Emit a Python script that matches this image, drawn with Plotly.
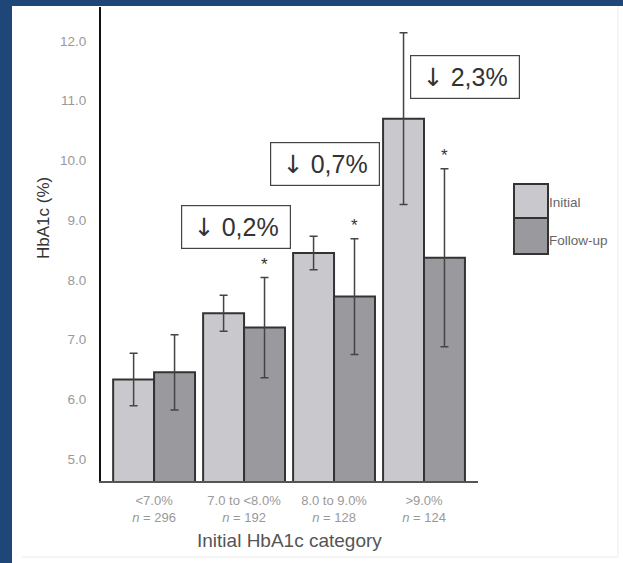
import plotly.graph_objects as go

categories = ["<7.0%", "7.0 to <8.0%", "8.0 to 9.0%", ">9.0%"]
n_values = [296, 192, 128, 124]
initial_mean = [6.33, 7.44, 8.45, 10.70]
initial_sd = [0.44, 0.30, 0.28, 1.44]
followup_mean = [6.45, 7.20, 7.72, 8.37]
followup_sd = [0.63, 0.84, 0.97, 1.49]
significant = [False, True, True, True]
reduction_labels = ["0,2%", "0,7%", "2,3%"]
reduction_pos = [(0.906, 8.885), (1.894, 9.948), (3.456, 11.39)]
y_ticks = [5.0, 6.0, 7.0, 8.0, 9.0, 10.0, 11.0, 12.0]

W, H = 623, 563
L, R, T, B = 101, 478, 7, 481
FONT = "Liberation Sans, Arial, DejaVu Sans, sans-serif"


def px2x(px):
    return (px - L) / (R - L)


def px2y(py):
    return 1 - (py - T) / (B - T)


def esc(s):
    return s.replace("&", "&amp;").replace("<", "&lt;").replace(">", "&gt;")


ticktext = [f"{esc(c)}<br><i>n</i> = {n}" for c, n in zip(categories, n_values)]
xs = list(range(len(categories)))

fig = go.Figure()
fig.add_trace(go.Bar(
    x=xs, y=initial_mean, name="Initial",
    marker=dict(color="#c9c9cd", line=dict(color="#333333", width=2)),
    error_y=dict(type="data", array=initial_sd, color="#444444", thickness=1.5, width=4),
    showlegend=False,
))
fig.add_trace(go.Bar(
    x=xs, y=followup_mean, name="Follow-up",
    marker=dict(color="#9a9a9e", line=dict(color="#333333", width=2)),
    error_y=dict(type="data", array=followup_sd, color="#444444", thickness=1.5, width=4),
    showlegend=False,
))

annotations = []
for i, (m, s, sig) in enumerate(zip(followup_mean, followup_sd, significant)):
    if sig:
        annotations.append(dict(x=i, y=m + s, xref="x", yref="y", text="*", showarrow=False,
                                xshift=20.5, yshift=13, font=dict(family=FONT, size=17, color="#333333")))
for lab, (bx, by) in zip(reduction_labels, reduction_pos):
    annotations.append(dict(x=bx, y=by, xref="x", yref="y",
                            text='<span style="font-family:DejaVu Sans">↓</span> ' + lab,
                            showarrow=False,
                            font=dict(family=FONT, size=25, color="#333333"),
                            bgcolor="white", bordercolor="#444444", borderwidth=1.2,
                            borderpad=0, width=108, height=42))
annotations.append(dict(x=px2x(43), y=px2y(218), xref="paper", yref="paper", text="HbA1c (%)",
                        textangle=-90, showarrow=False, xanchor="center", yanchor="middle",
                        font=dict(family=FONT, size=17, color="#333333")))
annotations.append(dict(x=px2x(289), y=px2y(540), xref="paper", yref="paper", text="Initial HbA1c category",
                        showarrow=False, xanchor="center", yanchor="middle",
                        font=dict(family=FONT, size=19, color="#555555")))
annotations.append(dict(x=px2x(547), y=px2y(202), xref="paper", yref="paper", text="Initial",
                        xanchor="left", yanchor="middle", showarrow=False,
                        font=dict(family=FONT, size=13.5, color="#666666")))
annotations.append(dict(x=px2x(547), y=px2y(240), xref="paper", yref="paper", text="Follow-up",
                        xanchor="left", yanchor="middle", showarrow=False,
                        font=dict(family=FONT, size=13.5, color="#666666")))

shapes = [
    dict(type="rect", xref="paper", yref="paper", x0=px2x(0), x1=px2x(12), y0=px2y(H), y1=px2y(0),
         fillcolor="#1f4678", line=dict(width=0), layer="above"),
    dict(type="rect", xref="paper", yref="paper", x0=px2x(0), x1=px2x(W), y0=px2y(6), y1=px2y(0),
         fillcolor="#1f4678", line=dict(width=0), layer="above"),
    dict(type="line", xref="paper", yref="paper", x0=px2x(618), x1=px2x(618), y0=px2y(557), y1=px2y(6),
         line=dict(color="#ececec", width=1)),
    dict(type="line", xref="paper", yref="paper", x0=px2x(22), x1=px2x(618), y0=px2y(557), y1=px2y(557),
         line=dict(color="#ececec", width=1)),
    dict(type="rect", xref="paper", yref="paper", x0=px2x(514), x1=px2x(548), y0=px2y(218), y1=px2y(184),
         fillcolor="#c9c9cd", line=dict(color="#333333", width=2)),
    dict(type="rect", xref="paper", yref="paper", x0=px2x(514), x1=px2x(548), y0=px2y(254), y1=px2y(218),
         fillcolor="#9a9a9e", line=dict(color="#333333", width=2)),
]

fig.update_layout(
    width=W, height=H,
    margin=dict(l=L, r=W - R, t=T, b=H - B, pad=0),
    paper_bgcolor="white", plot_bgcolor="white",
    barmode="group", bargap=0.09, bargroupgap=0,
    font=dict(family=FONT),
    annotations=annotations, shapes=shapes,
    hovermode=False,
    xaxis=dict(
        range=[-0.59, 3.6], tickmode="array", tickvals=xs, ticktext=ticktext,
        showline=True, linecolor="#555555", linewidth=2, ticks="", showgrid=False, zeroline=False,
        tickfont=dict(family=FONT, size=13, color="#999999"), ticklabelstandoff=6,
    ),
    yaxis=dict(
        range=[4.63, 12.57], tickmode="array", tickvals=y_ticks,
        ticktext=[f"{v:.1f}" for v in y_ticks],
        showline=True, linecolor="#111111", linewidth=2, ticks="", showgrid=False, zeroline=False,
        tickfont=dict(family=FONT, size=13.5, color="#999999"), ticklabelstandoff=10,
    ),
)

fig.write_html("out.html", config={"displayModeBar": False},
               post_script="document.body.style.margin='0';")
